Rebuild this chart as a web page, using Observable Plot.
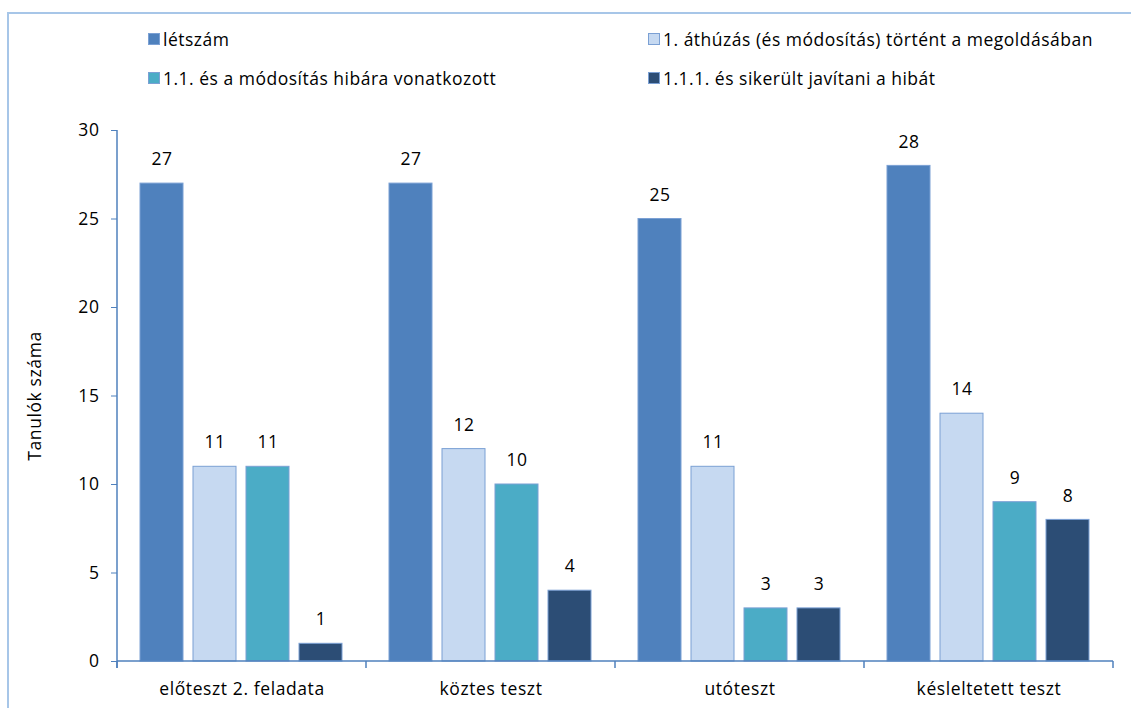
<!DOCTYPE html>
<html>
<head>
<meta charset="utf-8">
<script src="https://cdn.jsdelivr.net/npm/d3@7"></script>
<script src="https://cdn.jsdelivr.net/npm/@observablehq/plot@0.6"></script>
<style>
  html, body { margin: 0; padding: 0; background: #fff; overflow: hidden; width: 1131px; height: 708px; }
  body { position: relative; font-family: "Open Sans", Lato, sans-serif; }
  #frame { position: absolute; left: 7px; top: 12px; width: 1400px; height: 900px;
           border-left: 2px solid #a7c6e8; border-top: 2px solid #a7c6e8; pointer-events: none; }
  #legend { position: relative; height: 100px; }
  .item { position: absolute; display: flex; align-items: center; font-size: 17.5px; letter-spacing: 0.5px; color: #000; white-space: nowrap; }
  .sw { width: 12px; height: 12px; margin-right: 3px; box-sizing: border-box; border: 1px solid #7ba0d4; }
  svg { display: block; }
  svg text { letter-spacing: 0.6px; }
</style>
</head>
<body>
<div id="frame"></div>
<div id="legend"></div>
<div id="chart"></div>
<script>
// ---- data ----
const categories = ["előteszt 2. feladata", "köztes teszt", "utóteszt", "késleltetett teszt"];
const seriesNames = [
  "létszám",
  "1. áthúzás (és módosítás) történt a megoldásában",
  "1.1. és a módosítás hibára vonatkozott",
  "1.1.1. és sikerült javítani a hibát"
];
const letszam   = [27, 27, 25, 28];
const athuzas   = [11, 12, 11, 14];
const hibara    = [11, 10, 3, 9];
const javitani  = [1, 4, 3, 8];
const yTicks = [0, 5, 10, 15, 20, 25, 30];
const colors = ["#4f81bd", "#c6d9f1", "#4bacc6", "#2c4d75"];
const yLabel = "Tanulók száma";

const seriesValues = [letszam, athuzas, hibara, javitani];
const data = [];
categories.forEach((c, ci) => {
  seriesNames.forEach((s, si) => data.push({category: c, series: s, value: seriesValues[si][ci]}));
});

// ---- legend ----
const legend = document.getElementById("legend");
seriesNames.forEach((s, i) => {
  const el = document.createElement("div");
  el.className = "item";
  el.style.left = (i % 2 === 0 ? 148 : 648) + "px";
  el.style.top = (Math.floor(i / 2) === 0 ? 27 : 66) + "px";
  const sw = document.createElement("span");
  sw.className = "sw";
  sw.style.background = colors[i];
  el.appendChild(sw);
  el.appendChild(document.createTextNode(s));
  legend.appendChild(el);
});

// ---- chart ----
const axisColor = "#4f81bd";
const font = "'Open Sans', Lato, sans-serif";
const fs = 17.5;
const plot = Plot.plot({
  width: 1131,
  height: 608,
  marginTop: 30,
  marginBottom: 47,
  marginLeft: 116,
  marginRight: 17,
  style: {fontFamily: font, fontSize: fs + "px", color: "#000", background: "transparent"},
  fx: {domain: categories, padding: 0, label: null},
  x: {domain: seriesNames, paddingInner: 0.185, paddingOuter: 0.4, axis: null},
  y: {domain: [0, 30], label: null},
  color: {domain: seriesNames, range: colors},
  marks: [
    Plot.barY(data, {fx: "category", x: "series", y: "value", fill: "series", stroke: "#7ba0d4", strokeWidth: 1}),
    Plot.text(data, {fx: "category", x: "series", y: "value", text: d => String(d.value), dy: -24, fontSize: fs, fill: "#000"}),
    Plot.axisY({ticks: yTicks, tickSize: 6, tickPadding: 12, stroke: axisColor, fill: "#000", fontSize: fs,
                label: yLabel, labelAnchor: "center", labelArrow: "none", labelOffset: 89}),
    Plot.axisFx({anchor: "bottom", tickSize: 0, tickPadding: 21, fontSize: fs, fill: "#000", label: null})
  ]
});
document.getElementById("chart").appendChild(plot);

// axis lines and category boundary ticks, from the plot's own scales
const fx = plot.scale("fx");
const y = plot.scale("y");
const svg = d3.select(plot);
const y0 = y.apply(0), yTop = y.apply(30);
const left = fx.apply(categories[0]);
const right = fx.apply(categories[categories.length - 1]) + fx.bandwidth;
const g = svg.append("g").attr("stroke", axisColor).attr("stroke-width", 1.5);
g.append("line").attr("x1", left).attr("x2", left).attr("y1", yTop).attr("y2", y0 + 7);
g.append("line").attr("x1", left).attr("x2", right).attr("y1", y0).attr("y2", y0);
const bounds = categories.map(c => fx.apply(c)).concat([right]);
bounds.forEach(b => g.append("line").attr("x1", b).attr("x2", b).attr("y1", y0).attr("y2", y0 + 7));
</script>
</body>
</html>
